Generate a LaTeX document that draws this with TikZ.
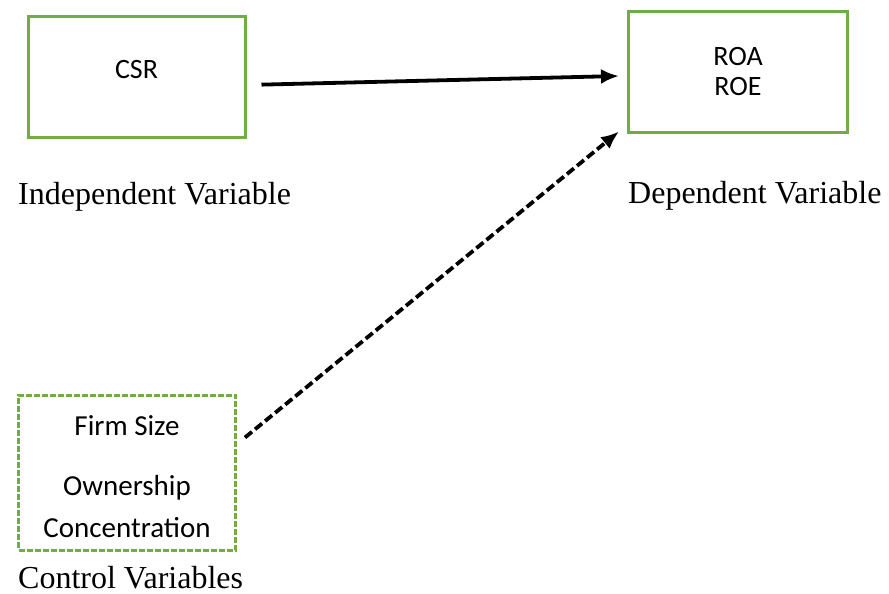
\documentclass[tikz,border=0pt]{standalone}
\usepackage{fontspec}
\setmainfont{Liberation Serif}
\newfontfamily\boxfont{Carlito}
\usetikzlibrary{arrows.meta}
\definecolor{boxgreen}{RGB}{112,173,71}

\begin{document}
\begin{tikzpicture}
[x=1pt,y=-1pt,
  boxdecorate/.style={shape=rectangle,draw=boxgreen,line width=3pt,
    inner sep=0pt,align=center,font=\boxfont\fontsize{28}{30}\selectfont},
  labeldecorate/.style={anchor=base west,inner sep=0pt,
    font=\fontsize{32}{38}\selectfont},
  linedecorate/.style={-{Latex[length=18pt,width=15pt]},line width=3.8pt}]
\useasboundingbox (0,0) rectangle (889,594);
%% boxes
\node (csr) at (136.5,77) [boxdecorate,minimum width=217pt,
  minimum height=120pt,text depth=16pt] {CSR};
\node (roa) at (738,72) [boxdecorate,minimum width=219pt,
  minimum height=120pt] {ROA\\ROE};
\node (ctrl) at (127,472.5) [boxdecorate,minimum width=217pt,
  minimum height=155pt,dash pattern=on 6pt off 2pt,
  font=\boxfont\fontsize{29}{42}\selectfont]
  {\rule{0pt}{28pt}Firm Size\\[18pt]Ownership\\Concentration};
%% labels under the boxes
\foreach \nodename/\x/\y/\labeltext in {indep/18/204/Independent Variable,
  dep/628/203/Dependent Variable, ctrllabel/18/588/Control Variables}
{
  \node (\nodename) at (\x,\y) [labeldecorate] {\labeltext};
}
%% edges
\draw [linedecorate,shorten <=15pt] ([yshift=-8pt]csr.east)
  -- ([xshift=-8pt,yshift=-4pt]roa.west);
\draw [linedecorate,dash pattern=on 9pt off 4pt]
  ([xshift=8pt,yshift=35pt]ctrl.east) -- ([xshift=-8pt,yshift=2pt]roa.south west);
\end{tikzpicture}
\end{document}
